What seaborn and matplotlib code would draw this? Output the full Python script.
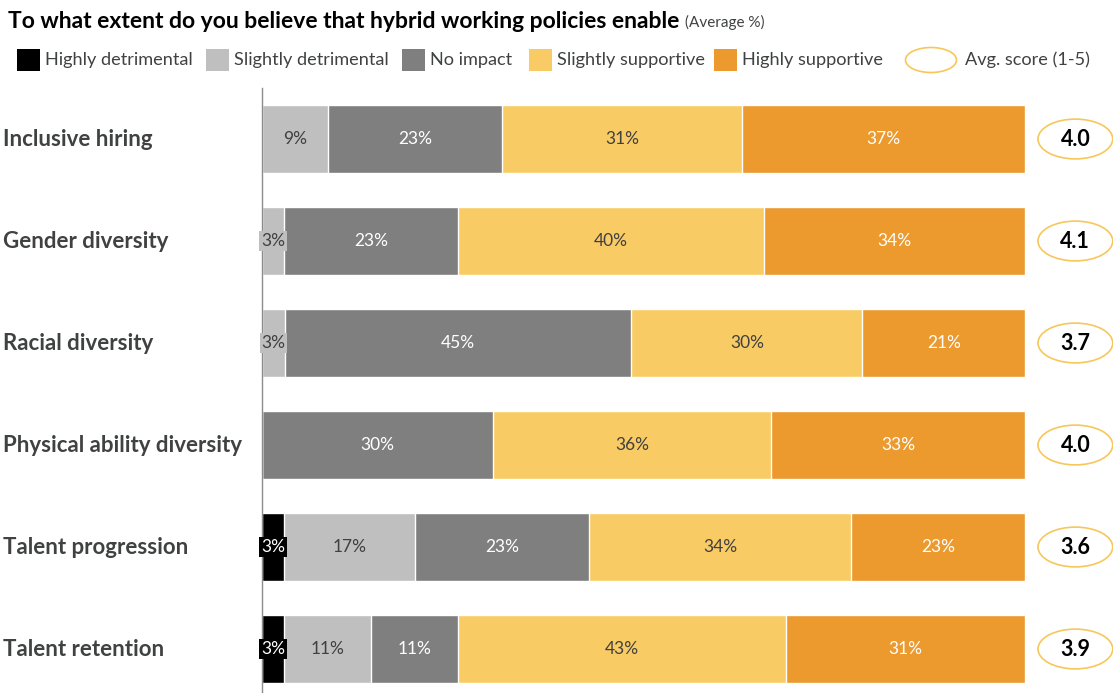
import numpy as np
import pandas as pd
import matplotlib
matplotlib.use("Agg")
import matplotlib.pyplot as plt
import matplotlib.transforms as mtransforms
from matplotlib.patches import Rectangle, Ellipse
import seaborn as sns

# ---- data -------------------------------------------------------------
categories = [
    "Inclusive hiring",
    "Gender diversity",
    "Racial diversity",
    "Physical ability diversity",
    "Talent progression",
    "Talent retention",
]
responses = [
    "Highly detrimental",
    "Slightly detrimental",
    "No impact",
    "Slightly supportive",
    "Highly supportive",
]
highly_detrimental = [0.0, 0.0, 0.0, 0.0, 2.9, 2.9]
slightly_detrimental = [8.7, 2.9, 3.0, 0.0, 17.2, 11.4]
no_impact = [22.8, 22.8, 45.4, 30.3, 22.8, 11.4]
slightly_supportive = [31.4, 40.1, 30.3, 36.4, 34.3, 43.0]
highly_supportive = [37.1, 34.2, 21.3, 33.3, 22.8, 31.3]
avg_score = [4.0, 4.1, 3.7, 4.0, 3.6, 3.9]

colors = ["#000000", "#BFBFBF", "#7F7F7F", "#F9CB64", "#EC992D"]
label_colors = ["white", "#404040", "white", "#404040", "white"]
ring_color = "#F7C75A"
text_dark = "#3F4240"

# ---- figure -----------------------------------------------------------
W, H = 1113, 693
sns.set_style("white")
plt.rcParams["font.family"] = ["Lato", "DejaVu Sans"]

fig = plt.figure(figsize=(W / 100, H / 100), dpi=100)
ax = fig.add_axes([262 / W, 1 - 700 / H, 763 / W, 612 / H])

values = np.array([highly_detrimental, slightly_detrimental, no_impact,
                   slightly_supportive, highly_supportive]).T
cum = np.cumsum(values, axis=1)

# stacked bars: draw cumulative totals from the outermost segment inwards
for k in reversed(range(len(responses))):
    df = pd.DataFrame({"category": categories, "value": cum[:, k]})
    sns.barplot(data=df, x="value", y="category", orient="h", color=colors[k],
                saturation=1, width=0.667, ax=ax)

ax.set_xlim(0, 100)
ax.set_ylim(5.5, -0.5)
ax.set_xlabel("")
ax.set_ylabel("")
ax.set_xticks([])
ax.set_yticks([])
for side in ["top", "right", "bottom"]:
    ax.spines[side].set_visible(False)
ax.spines["left"].set_color("#8C8C8C")
ax.spines["left"].set_linewidth(1.0)

# segment value labels
for i in range(len(categories)):
    for k in range(len(responses)):
        v = values[i, k]
        if v <= 0:
            continue
        x = cum[i, k] - v / 2
        kw = {}
        if v < 5:
            kw["bbox"] = dict(boxstyle="square,pad=0.1", fc=colors[k], ec="none")
        ax.text(x, i, f"{v:.0f}%", ha="center", va="center", fontsize=12.5,
                color=label_colors[k], **kw)

# category names at the left edge
lab_tr = mtransforms.blended_transform_factory(fig.transFigure, ax.transData)
for i, c in enumerate(categories):
    ax.text(3 / W, i, c, transform=lab_tr, ha="left", va="center",
            fontsize=16, fontweight="bold", color=text_dark)

# average score rings
for i, s in enumerate(avg_score):
    ax.add_patch(Ellipse((106.6, i), 9.8, 0.39, fc="white", ec=ring_color,
                         lw=1.2, clip_on=False))
    ax.text(106.6, i, f"{s:.1f}", ha="center", va="center", fontsize=15.5,
            fontweight="bold", color="black", clip_on=False)

# ---- title ------------------------------------------------------------
title = fig.text(8 / W, 1 - 21 / H,
                 "To what extent do you believe that hybrid working policies enable",
                 ha="left", va="center", fontsize=16.5, fontweight="bold",
                 color="black")
fig.canvas.draw()
bb = title.get_window_extent(fig.canvas.get_renderer())
fig.text(bb.x1 / W + 6 / W, 1 - 22 / H, "(Average %)", ha="left", va="center",
         fontsize=11, color=text_dark)

# ---- legend -----------------------------------------------------------
leg_y = 60
sq_x = [17, 206, 402, 529, 714]
for k, name in enumerate(responses):
    fig.patches.append(Rectangle((sq_x[k] / W, 1 - (leg_y + 11) / H), 23 / W, 22 / H,
                                 transform=fig.transFigure, fc=colors[k], ec="none"))
    fig.text((sq_x[k] + 28) / W, 1 - leg_y / H, name, ha="left", va="center",
             fontsize=13.1, color=text_dark)
fig.patches.append(Ellipse((931 / W, 1 - leg_y / H), 51 / W, 25 / H,
                           transform=fig.transFigure, fc="white", ec=ring_color, lw=1.2))
fig.text(965 / W, 1 - leg_y / H, "Avg. score (1-5)", ha="left", va="center",
         fontsize=13.1, color=text_dark)

fig.savefig("out.png", dpi=100)
